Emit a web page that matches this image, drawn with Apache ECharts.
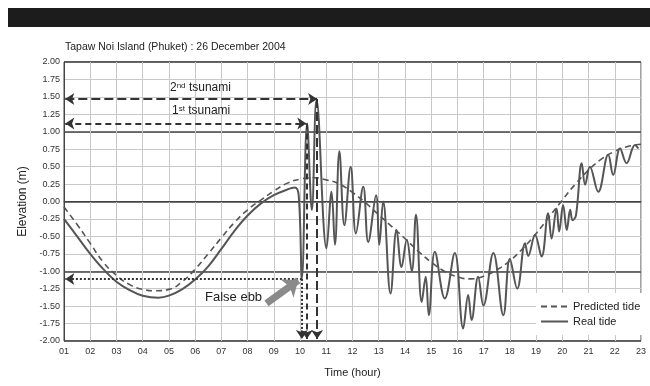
<!DOCTYPE html>
<html>
<head>
<meta charset="utf-8">
<title>Tapaw Noi Island (Phuket)</title>
<script src="https://cdn.jsdelivr.net/npm/echarts@6/dist/echarts.min.js"></script>
<style>
  html, body { margin: 0; padding: 0; background: #fff; }
  #tide { width: 650px; height: 386px; }
</style>
</head>
<body>
<div id="tide"></div>
<script>
// values (hour of day, elevation in m)
var predHours = [1, 1.5, 2, 2.5, 3, 3.5, 4, 4.5, 5, 5.5, 6, 6.5, 7, 7.5, 8, 8.5, 9, 9.5, 10, 10.5,
    11, 11.5, 12, 12.5, 13, 13.5, 14, 14.5, 15, 15.5, 16, 16.5, 17, 17.5, 18, 18.5, 19, 19.5,
    20, 20.5, 21, 21.5, 22, 22.5, 23];
var predTide = [-0.08, -0.33, -0.6, -0.87, -1.06, -1.19, -1.26, -1.28, -1.26, -1.15, -0.97, -0.75,
    -0.52, -0.3, -0.12, 0.02, 0.15, 0.26, 0.32, 0.34, 0.31, 0.25, 0.13, -0.02, -0.19, -0.36,
    -0.53, -0.71, -0.87, -1.0, -1.08, -1.11, -1.07, -0.98, -0.85, -0.67, -0.46, -0.22, 0.02,
    0.25, 0.45, 0.61, 0.72, 0.79, 0.82];

var realHours = [1, 1.5, 2, 2.5, 3, 3.5, 4, 4.6, 5, 5.5, 6, 6.5, 7, 7.5, 8, 8.5, 9, 9.5, 9.8, 9.95,
    10.07, 10.27, 10.45, 10.63, 11.01, 11.2, 11.33, 11.5, 11.69, 11.93, 12.13, 12.41, 12.6, 12.9,
    13.02, 13.17, 13.45, 13.68, 13.87, 14.07, 14.26, 14.42, 14.64, 14.79, 14.91, 15.14, 15.52,
    15.9, 16.22, 16.41, 16.54, 16.79, 16.99, 17.37, 17.75, 18.0, 18.28, 18.58, 18.7, 18.96,
    19.21, 19.46, 19.59, 19.78, 19.88, 20.03, 20.17, 20.3, 20.39, 20.52, 20.74, 20.87, 21.05,
    21.37, 21.75, 21.94, 22.2, 22.45, 22.77, 22.9];
var realTide = [-0.25, -0.5, -0.75, -0.97, -1.15, -1.27, -1.35, -1.38, -1.35, -1.26, -1.12, -0.93,
    -0.68, -0.42, -0.2, -0.03, 0.09, 0.17, 0.2, 0.08,
    -1.1, 1.12, -0.12, 1.46, -0.67, 0.14, -0.62, 0.72, -0.34, 0.5, -0.46, 0.21, -0.58, 0.09,
    -0.62, 0.0, -1.32, -0.41, -0.94, -0.55, -1.0, -0.19, -1.44, -1.08, -1.63, -0.72, -1.39,
    -0.74, -1.82, -1.34, -1.7, -1.08, -1.49, -0.74, -1.63, -0.82, -1.25, -0.6, -0.78, -0.48,
    -0.79, -0.17, -0.53, -0.1, -0.43, -0.05, -0.41, -0.12, -0.27, -0.2, 0.55, 0.24, 0.5,
    0.14, 0.67, 0.38, 0.76, 0.55, 0.81, 0.76];

var hourLabels = ['01', '02', '03', '04', '05', '06', '07', '08', '09', '10', '11', '12',
    '13', '14', '15', '16', '17', '18', '19', '20', '21', '22', '23'];

// tsunami arrival / false ebb levels
var ebbHour = 10.07, ebbLevel = -1.11;
var first = [10.24, 1.12];
var second = [10.65, 1.47];

var font = '"Liberation Sans", Arial, sans-serif';
var ink = '#333';

function pairs(xs, ys) {
    return xs.map(function (x, i) { return [x, ys[i]]; });
}

function arrow(from, to, style, ends) {
    return [
        { coord: from, symbol: ends[0], symbolSize: [9, 9] },
        { coord: to, symbol: ends[1], symbolSize: [9, 9], lineStyle: style }
    ];
}

var chart = echarts.init(document.getElementById('tide'));

var dash2 = { color: ink, width: 2, type: [9, 4] };
var dash1 = { color: ink, width: 2, type: [6, 4] };
var dots = { color: ink, width: 2, type: [2, 2] };

option = {
    animation: false,
    backgroundColor: '#fff',
    title: {
        text: 'Tapaw Noi Island (Phuket) : 26 December 2004',
        left: 60,
        top: 37,
        textStyle: { fontFamily: font, fontSize: 10.5, fontWeight: 'normal', color: '#222' }
    },
    graphic: [
        { type: 'rect', shape: { x: 8, y: 8, width: 642, height: 19 }, style: { fill: '#1c1c1c' } },
        {
            type: 'text', left: 170, top: 82, z: 100,
            style: {
                text: '2{sup|nd} tsunami',
                font: '12px ' + font, fill: '#222',
                rich: { sup: { fontSize: 8, verticalAlign: 'top', fontFamily: font } }
            }
        },
        {
            type: 'text', left: 172, top: 105, z: 100,
            style: {
                text: '1{sup|st} tsunami',
                font: '12px ' + font, fill: '#222',
                rich: { sup: { fontSize: 8, verticalAlign: 'top', fontFamily: font } }
            }
        },
        { type: 'text', left: 205, top: 291, z: 100, style: { text: 'False ebb', font: '13px ' + font, fill: '#222' } }
    ],
    legend: {
        orient: 'vertical',
        left: 536,
        top: 293,
        padding: [8, 8, 8, 4],
        itemGap: 4,
        itemWidth: 27,
        itemHeight: 10,
        backgroundColor: '#fff',
        itemStyle: { opacity: 0 },
        textStyle: { fontFamily: font, fontSize: 11, color: '#222' },
        data: ['Predicted tide', 'Real tide']
    },
    grid: { left: 64, right: 9, top: 62, bottom: 45, show: true, borderColor: '#444', borderWidth: 1 },
    xAxis: {
        type: 'value',
        min: 1,
        max: 23,
        interval: 1,
        name: 'Time (hour)',
        nameLocation: 'middle',
        nameGap: 26,
        nameTextStyle: { fontFamily: font, fontSize: 11, color: '#222' },
        axisLine: { lineStyle: { color: '#444' } },
        axisTick: { show: false },
        axisLabel: {
            fontFamily: font, fontSize: 9, color: '#333', margin: 6,
            formatter: function (v) { return hourLabels[Math.round(v) - 1]; }
        },
        splitLine: { lineStyle: { color: '#c9c9c9', width: 1 } }
    },
    yAxis: [{
        type: 'value',
        min: -2,
        max: 2,
        interval: 0.25,
        name: 'Elevation (m)',
        nameLocation: 'middle',
        nameGap: 35,
        nameTextStyle: { fontFamily: font, fontSize: 12, color: '#222' },
        axisLine: { show: true, lineStyle: { color: '#444' } },
        axisTick: { show: false },
        axisLabel: {
            fontFamily: font, fontSize: 9, color: '#333', margin: 4,
            formatter: function (v) { return v.toFixed(2); }
        },
        splitLine: { lineStyle: { color: '#c9c9c9', width: 1 } }
    }, {
        type: 'value',
        min: -2,
        max: 2,
        interval: 1,
        axisLine: { show: false },
        axisTick: { show: false },
        axisLabel: { show: false },
        splitLine: { lineStyle: { color: '#444', width: 1.5 } }
    }],
    series: [{
        name: 'Predicted tide',
        type: 'line',
        smooth: true,
        symbol: 'none',
        lineStyle: { color: '#555', width: 1.6, type: [6, 4] },
        itemStyle: { color: '#555' },
        data: pairs(predHours, predTide),
        z: 3
    }, {
        name: 'Real tide',
        type: 'line',
        smooth: 0.4,
        symbol: 'none',
        lineStyle: { color: '#555', width: 2 },
        itemStyle: { color: '#555' },
        data: pairs(realHours, realTide),
        z: 4,
        markLine: {
            silent: true,
            symbol: ['none', 'none'],
            label: { show: false },
            lineStyle: { color: ink, width: 2 },
            data: [
                arrow([1.05, second[1]], second, dash2, ['arrow', 'arrow']),
                arrow([1.05, first[1]], first, dash1, ['arrow', 'arrow']),
                arrow([second[0], second[1]], [second[0], -1.97], dash2, ['none', 'arrow']),
                arrow([first[0] + 0.02, first[1]], [first[0] + 0.02, -1.97], dash1, ['none', 'arrow']),
                arrow([ebbHour, ebbLevel], [1.05, ebbLevel], dots, ['none', 'arrow']),
                arrow([ebbHour, ebbLevel], [ebbHour, -1.97], dots, ['none', 'arrow']),
                [
                    { coord: [8.72, -1.46], symbol: 'none' },
                    { coord: [9.93, -1.13], symbol: 'arrow', symbolSize: [17, 14],
                      lineStyle: { color: '#8a8a8a', width: 7, type: 'solid' } }
                ]
            ]
        }
    }]
};

chart.setOption(option);
</script>
</body>
</html>
